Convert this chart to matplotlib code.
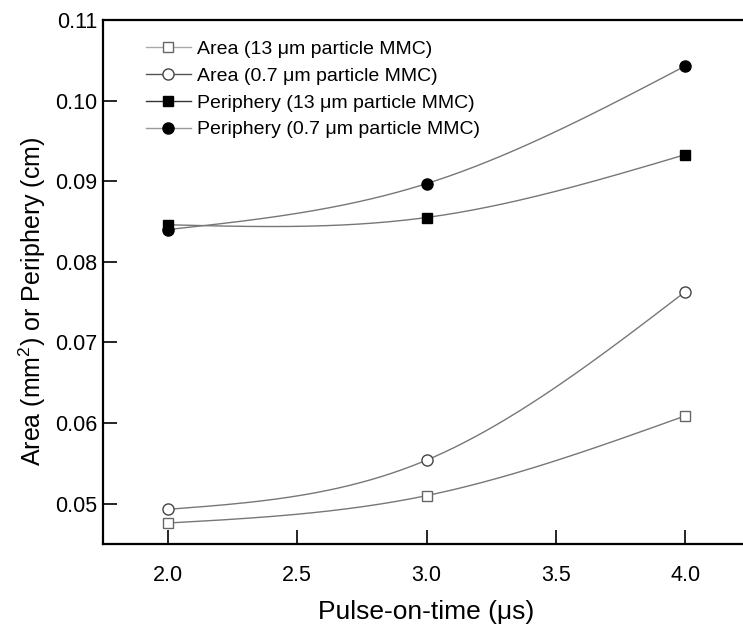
import numpy as np
import matplotlib
matplotlib.use("Agg")
import matplotlib.pyplot as plt

plt.rcParams['font.family'] = ['Liberation Sans', 'DejaVu Sans']
plt.rcParams['mathtext.fontset'] = 'custom'
plt.rcParams['mathtext.rm'] = 'Liberation Sans'
plt.rcParams['mathtext.it'] = 'Liberation Sans'

pulse_on_time = [2.0, 3.0, 4.0]
area_13 = [0.0476, 0.0510, 0.0609]
area_07 = [0.0493, 0.0554, 0.0763]
periphery_13 = [0.0846, 0.0855, 0.0933]
periphery_07 = [0.0840, 0.0897, 0.1043]
labels = ["Area (13 μm particle MMC)", "Area (0.7 μm particle MMC)",
          "Periphery (13 μm particle MMC)", "Periphery (0.7 μm particle MMC)"]
xticks = [2.0, 2.5, 3.0, 3.5, 4.0]
yticks = [0.05, 0.06, 0.07, 0.08, 0.09, 0.10, 0.11]


def natural_spline(x, y, n=200):
    x = np.asarray(x, float); y = np.asarray(y, float)
    k = len(x)
    h = np.diff(x)
    A = np.zeros((k, k)); b = np.zeros(k)
    A[0, 0] = 1; A[-1, -1] = 1
    for i in range(1, k - 1):
        A[i, i - 1] = h[i - 1]; A[i, i] = 2 * (h[i - 1] + h[i]); A[i, i + 1] = h[i]
        b[i] = 6 * ((y[i + 1] - y[i]) / h[i] - (y[i] - y[i - 1]) / h[i - 1])
    M = np.linalg.solve(A, b)
    xs = np.linspace(x[0], x[-1], n)
    ys = np.empty_like(xs)
    for j, xv in enumerate(xs):
        i = min(np.searchsorted(x, xv, side='right') - 1, k - 2)
        t1 = x[i + 1] - xv; t0 = xv - x[i]
        ys[j] = (M[i] * t1**3 + M[i + 1] * t0**3) / (6 * h[i]) \
            + (y[i] / h[i] - M[i] * h[i] / 6) * t1 + (y[i + 1] / h[i] - M[i + 1] * h[i] / 6) * t0
    return xs, ys


fig = plt.figure(figsize=(7.43, 6.26), dpi=100)
ax = fig.add_axes([103.0 / 743, 82.0 / 626, 647.0 / 743, 524.0 / 626])

series = [
    (area_13, 's', 'white', '#666666', '#aaaaaa'),
    (area_07, 'o', 'white', '#444444', '#555555'),
    (periphery_13, 's', 'black', 'black', '#333333'),
    (periphery_07, 'o', 'black', 'black', '#999999'),
]
for (vals, mk, fc, ec, lc), lab in zip(series, labels):
    xs, ys = natural_spline(pulse_on_time, vals)
    ax.plot(xs, ys, color='#777777', lw=1.0, zorder=2)
    ax.plot(pulse_on_time, vals, linestyle='none', marker=mk, ms=8 if mk == 'o' else 7.5,
            mfc=fc, mec=ec, mew=1.0, zorder=3)
    ax.plot([], [], color=lc, lw=1.0, marker=mk, ms=8 if mk == 'o' else 7.5,
            mfc=fc, mec=ec, mew=1.0, label=lab)

ax.set_xlim(1.75, 4.25)
ax.set_ylim(0.045, 0.11)
ax.set_xticks(xticks)
ax.set_xticklabels([f"{v:.1f}" for v in xticks])
ax.set_yticks(yticks)
ax.set_yticklabels([f"{v:.2f}" for v in yticks])
ax.tick_params(direction='in', length=10, width=1.2, labelsize=15.5)
ax.tick_params(axis='y', pad=4)
ax.tick_params(axis='x', pad=15)
for s in ax.spines.values():
    s.set_linewidth(1.6)
ax.spines['right'].set_visible(False)

ax.set_xlabel("Pulse-on-time (μs)", fontsize=19, labelpad=10)
ax.set_ylabel("Area (mm$^2$) or Periphery (cm)", fontsize=18)
ax.yaxis.set_label_coords(48.0 / 743, 1 - 301.0 / 626, transform=fig.transFigure)

leg = ax.legend(loc='upper left', bbox_to_anchor=(146.0 / 743, 1 - 40.0 / 626),
                bbox_transform=fig.transFigure, frameon=False, fontsize=14,
                handlelength=2.3, handletextpad=0.3, labelspacing=0.48,
                borderaxespad=0, borderpad=0)

fig.savefig("out.png", dpi=100)
